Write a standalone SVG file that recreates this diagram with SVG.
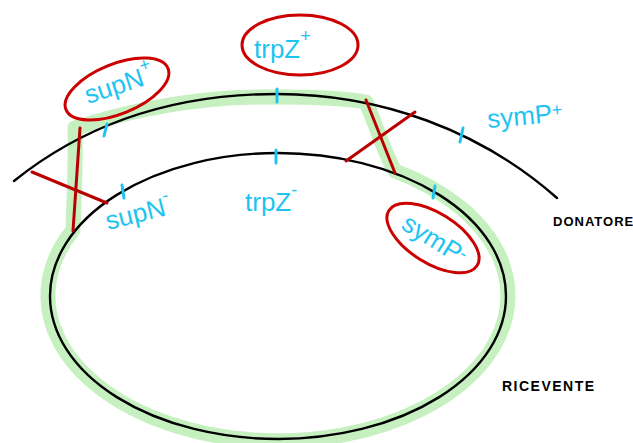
<svg xmlns="http://www.w3.org/2000/svg" width="633" height="443" viewBox="0 0 633 443">
<style>
.blk{fill:none;stroke:#000;stroke-width:2.4;stroke-linecap:round}
.red{fill:none;stroke:#b80000;stroke-width:3;stroke-linecap:round}
.ring{fill:none;stroke:#cc0000;stroke-width:3;stroke-linecap:round}
.tick{stroke:#1ec4f0;stroke-width:3;stroke-linecap:round}
.lbl{fill:#1ec4f0;font-family:"Liberation Sans",Arial,sans-serif;font-size:26px}
.sup{font-size:18px}
.cap{fill:#000;font-family:"Liberation Sans",Arial,sans-serif;font-weight:bold}
</style>
<g id="recombinant">
<path d="M75,128 C150,104 220,96 277,97 C320,97 350,99 366,102 C378,130 385,155 395,171 A230,145 0 1 1 73,230 C74,200 76,160 75,128 Z" fill="none" stroke="#c6f0c0" stroke-width="15" stroke-linejoin="round"/>
</g>
<g id="donatore">
<path class="blk" d="M14,181 C90,120 180,94 277,94 C380,94 480,130 557,198"/>
<text class="cap" x="553" y="226" font-size="13" letter-spacing="1">DONATORE</text>
</g>
<g id="ricevente">
<ellipse class="blk" cx="278" cy="296" rx="228" ry="143"/>
<text class="cap" x="502" y="391" font-size="14" letter-spacing="1.5">RICEVENTE</text>
</g>
<g id="connectors">
<line class="red" x1="80" y1="128" x2="73" y2="231"/>
<line class="red" x1="32" y1="172" x2="107" y2="203"/>
<line class="red" x1="366" y1="100" x2="395" y2="173"/>
<line class="red" x1="415" y1="112" x2="346" y2="161"/>
</g>
<g id="ticks">
<line class="tick" x1="107" y1="124" x2="104" y2="136"/>
<line class="tick" x1="277" y1="89" x2="277" y2="102"/>
<line class="tick" x1="463" y1="128" x2="460" y2="142"/>
<line class="tick" x1="122" y1="185" x2="124" y2="198"/>
<line class="tick" x1="276" y1="150" x2="276" y2="163"/>
<line class="tick" x1="435" y1="186" x2="433" y2="198"/>
</g>
<g id="supN-plus">
<ellipse class="ring" cx="117" cy="89" rx="55" ry="25" transform="rotate(-22 117 89)"/>
<text class="lbl" x="88" y="104" transform="rotate(-18 88 104)">supN<tspan class="sup" dy="-14">+</tspan></text>
</g>
<g id="trpZ-plus">
<ellipse class="ring" cx="300" cy="45" rx="58" ry="30"/>
<text class="lbl" x="254" y="58" font-size="31">trpZ<tspan class="sup" dy="-16">+</tspan></text>
</g>
<g id="symP-plus">
<text class="lbl" x="488" y="128" transform="rotate(-5 488 128)">symP<tspan class="sup" dy="-6">+</tspan></text>
</g>
<g id="supN-minus">
<text class="lbl" x="108" y="230" transform="rotate(-14 108 230)">supN<tspan class="sup" dy="-14">-</tspan></text>
</g>
<g id="trpZ-minus">
<text class="lbl" x="245" y="211" font-size="29">trpZ<tspan class="sup" dy="-15">-</tspan></text>
</g>
<g id="symP-minus">
<ellipse class="ring" cx="433" cy="238" rx="52" ry="25" transform="rotate(32 433 238)"/>
<text class="lbl" x="400" y="228" transform="rotate(32 400 228)">symP<tspan class="sup" dy="-6">-</tspan></text>
</g>
</svg>
